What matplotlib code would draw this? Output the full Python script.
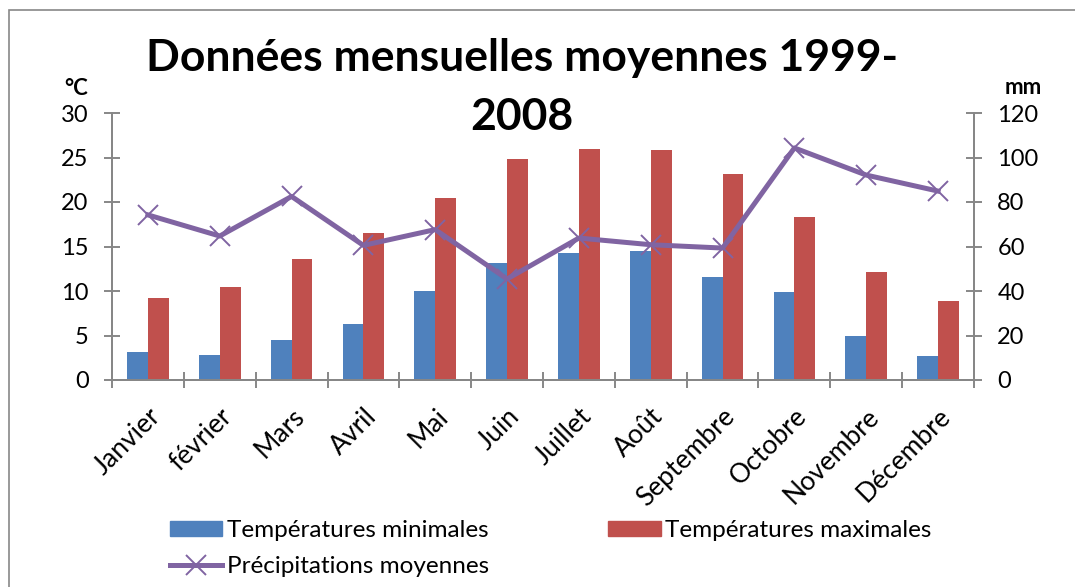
import matplotlib
matplotlib.use("Agg")
import matplotlib.pyplot as plt
from matplotlib.patches import Rectangle
from matplotlib.lines import Line2D
import numpy as np

months = ["Janvier", "février", "Mars", "Avril", "Mai", "Juin", "Juillet",
          "Août", "Septembre", "Octobre", "Novembre", "Décembre"]
temp_min = [3.1, 2.8, 4.5, 6.3, 10.0, 13.2, 14.3, 14.5, 11.6, 9.9, 5.0, 2.7]
temp_max = [9.2, 10.4, 13.6, 16.5, 20.5, 24.8, 25.9, 25.8, 23.1, 18.3, 12.1, 8.9]
precip = [74.2, 64.7, 82.5, 60.5, 67.6, 45.4, 63.8, 60.8, 59.3, 104.3, 92.1, 84.9]
left_ticks = [0, 5, 10, 15, 20, 25, 30]
right_ticks = [0, 20, 40, 60, 80, 100, 120]

plt.rcParams['font.family'] = ['Lato', 'DejaVu Sans']

W, H = 1075, 587
fig = plt.figure(figsize=(W / 100, H / 100), dpi=100)
fig.patch.set_facecolor('white')

# outer frame
fig.add_artist(Rectangle((9 / W, -0.1), 1.2, 1 - 10 / H + 0.1, transform=fig.transFigure,
                         fill=False, edgecolor='#878787', linewidth=1.2))

ax = fig.add_axes([112 / W, 1 - 380 / H, (974 - 112) / W, (380 - 113) / H])
ax2 = ax.twinx()

blue = '#4F81BD'
red = '#C0504D'
purple = '#8064A2'
grey = '#878787'

x = np.arange(len(months))
bw = 0.29
ax.bar(x - bw / 2, temp_min, bw, color=blue, zorder=2, label='Températures minimales')
ax.bar(x + bw / 2, temp_max, bw, color=red, zorder=2, label='Températures maximales')
ax2.plot(x, precip, color=purple, linewidth=3.6, marker='x', markersize=14,
         markeredgewidth=1.4, zorder=3, label='Précipitations moyennes')

ax.set_xlim(-0.5, len(months) - 0.5)
ax.set_ylim(0, 30)
ax2.set_ylim(0, 120)
ax.set_yticks(left_ticks)
ax2.set_yticks(right_ticks)

for a in (ax, ax2):
    for s in a.spines.values():
        s.set_color(grey)
        s.set_linewidth(1.4)
    a.spines['top'].set_visible(False)

ax.tick_params(axis='y', direction='inout', length=11.5, width=1.4, color=grey,
               labelsize=17, pad=11, labelcolor='black')
ax2.tick_params(axis='y', direction='inout', length=11.5, width=1.4, color=grey,
                labelsize=17, pad=11, labelcolor='black')

ax.set_xticks(x)
ax.set_xticklabels(months, rotation=45, ha='right', va='top', rotation_mode='anchor',
                   fontsize=19)
ax.set_xticks(np.arange(-0.5, len(months), 1.0), minor=True)
ax.tick_params(axis='x', which='major', length=0, pad=17)
ax.tick_params(axis='x', which='minor', direction='inout', length=11.5, width=1.4, color=grey)

# titles and unit labels
fig.text(522 / W, 1 - 71 / H, "Données mensuelles moyennes 1999-", ha='center', va='baseline',
         fontsize=32, fontweight='bold')
fig.text(522 / W, 1 - 130 / H, "2008", ha='center', va='baseline',
         fontsize=32, fontweight='bold')
fig.text(76 / W, 1 - 95 / H, "°C", ha='center', va='baseline', fontsize=16, fontweight='bold')
fig.text(1023 / W, 1 - 94 / H, "mm", ha='center', va='baseline', fontsize=16, fontweight='bold')

h_min = Rectangle((0, 0), 1, 1, color=blue)
h_max = Rectangle((0, 0), 1, 1, color=red)
h_pre = Line2D([], [], color=purple, linewidth=3.6, marker='x', markersize=14,
               markeredgewidth=1.4)
handles = [h_min, h_pre, h_max]
labels = ['Températures minimales', 'Précipitations moyennes', 'Températures maximales']
fig.legend(handles, labels, loc='upper left', bbox_to_anchor=(170 / W, 1 - 520 / H),
           ncol=2, frameon=False, fontsize=17.5, handlelength=2.15, handleheight=0.62,
           handletextpad=0.2, columnspacing=4.9, labelspacing=0.62, borderpad=0,
           borderaxespad=0)

fig.savefig('out.png', dpi=100, facecolor='white')
